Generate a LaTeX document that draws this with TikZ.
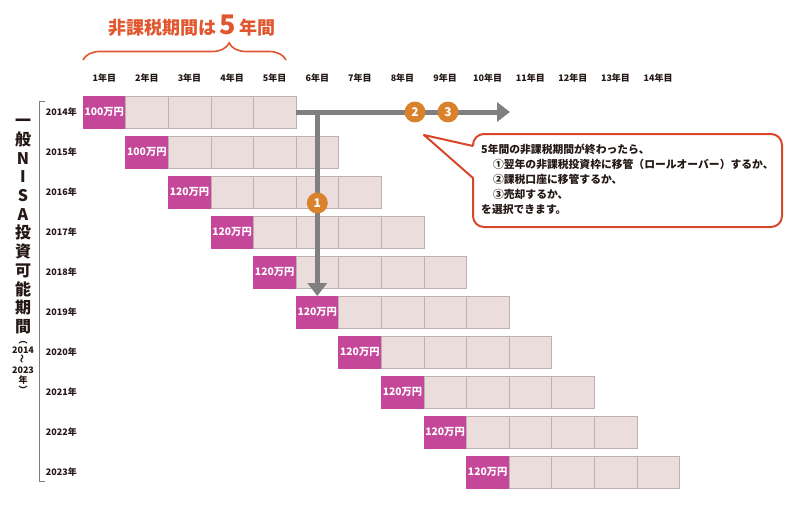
\documentclass[tikz,border=0pt]{standalone}
\usepackage{fontspec}
\setmainfont{Noto Sans CJK JP}
\usepackage{graphicx}
\usepackage{tikz}
\usetikzlibrary{arrows.meta,positioning,decorations.pathreplacing}
\definecolor{amtpink}{RGB}{197,71,154}
\definecolor{cellfill}{RGB}{235,221,220}
\definecolor{cellline}{RGB}{190,176,174}
\definecolor{arrowgray}{RGB}{127,127,127}
\definecolor{badgeorange}{RGB}{217,130,43}
\definecolor{calloutred}{RGB}{217,71,42}
\definecolor{titlered}{RGB}{224,86,46}
\definecolor{ink}{RGB}{35,24,21}

\begin{document}
\begin{tikzpicture}[
  x=1pt, y=-1pt, font=\bfseries, text=ink,
  cellbox/.style={draw=cellline, fill=cellfill, minimum width=42.6pt, minimum height=32pt, inner sep=0pt, outer sep=0pt, line width=0.6pt},
  amtbox/.style={cellbox, fill=amtpink, draw=amtpink, text=white, font=\fontsize{10.3}{12}\bfseries},
  yearlbl/.style={font=\fontsize{9}{11}\bfseries, anchor=east, inner sep=0pt},
  colhdr/.style={font=\fontsize{9}{10}\bfseries},
  badge/.style={circle, fill=badgeorange, text=white, minimum size=21pt, inner sep=0pt, font=\fontsize{12}{12}\bfseries},
  flow/.style={draw=arrowgray, line width=5pt, -{Triangle[length=13pt, width=19pt]}},
  calloutline/.style={draw=calloutred, line width=2pt, line join=round},
]
\useasboundingbox[fill=white] (0,0) rectangle (800,511);

% title and brace
\node[font=\fontsize{18}{20}\bfseries, text=titlered] (title) at (192,26) {非課税期間は\,{\fontsize{27}{27}\selectfont 5}\,年間};
\coordinate (brl) at (83,60);
\coordinate (brr) at (286,60);
\draw[titlered, line width=1.6pt, decorate, decoration={brace, amplitude=17pt, aspect=0.72}] (brl) -- (brr);

% column headers
\foreach \n in {1,...,14}
  \node[colhdr] (h\n) at ({83+42.6*(\n-0.5)},78) {\n 年目};

% one row per year
\foreach \yr [count=\i from 0] in {2014,...,2023}{
  \pgfmathsetmacro\xs{83+42.6*\i}
  \pgfmathsetmacro\yc{112+40*\i}
  \ifnum\yr<2016 \def\amt{100}\else\def\amt{120}\fi
  \node[amtbox, anchor=west] (c\yr-1) at (\xs,\yc) {\amt 万円};
  \foreach \k [remember=\k as \prev (initially 1)] in {2,...,5}
    \node[cellbox, right=0pt of c\yr-\prev] (c\yr-\k) {};
  \node[yearlbl] (y\yr) at (77,\yc) {\yr 年};
}

% left bracket and vertical label
\coordinate (bkt) at (39,101);
\coordinate (bkb) at (39,481);
\draw[arrowgray, line width=0.8pt] ([xshift=6pt]bkt) -- (bkt) -- (bkb) -- ([xshift=6pt]bkb);
\node[font=\fontsize{16}{18.7}\bfseries, align=center, anchor=north, inner sep=0pt] (vmain) at (23,119) {一\\般\\N\\I\\S\\A\\投\\資\\可\\能\\期\\間};
\node[font=\fontsize{9}{10}\bfseries, align=center, anchor=north, inner sep=0pt, below=7pt of vmain] (vsub) {︵\\2014\\\rotatebox{90}{～}\\2023\\年\\︶};

% gray arrows
\coordinate (flowend) at (510,112);
\draw[flow] (c2014-5.east) -- (flowend);
\draw[flow] (c2014-5.east -| c2019-1.north) -- (c2019-1.north);
\node[badge] (b1) at (317.3,203) {1};
\node[badge] (b2) at (415,112) {2};
\node[badge] (b3) at (448,112) {3};

% callout
\coordinate (tailtip) at (424,135);
\draw[calloutline] (473,146) -- (tailtip) -- (473,178) [rounded corners=11pt] -- (473,227) -- (782,227) -- (782,134) -- (473,134) [sharp corners] -- (473,146);
\node[font=\fontsize{10.8}{15}\bfseries, align=left, anchor=north west, inner sep=0pt] (note) at (481,144) {5年間の非課税期間が終わったら、\\\hspace*{1.1em}①翌年の非課税投資枠に移管（ロールオーバー）するか、\\\hspace*{1.1em}②課税口座に移管するか、\\\hspace*{1.1em}③売却するか、\\を選択できます。};
\end{tikzpicture}
\end{document}
